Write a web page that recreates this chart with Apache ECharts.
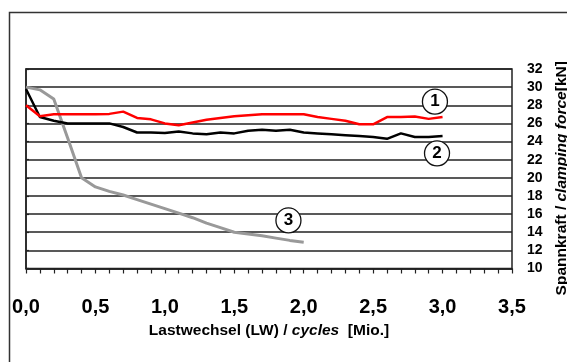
<!DOCTYPE html>
<html>
<head>
<meta charset="utf-8">
<script src="https://cdn.jsdelivr.net/npm/echarts@6/dist/echarts.min.js"></script>
<style>html,body{margin:0;padding:0;background:#fff}#c{width:567px;height:362px}</style>
</head>
<body>
<div id="c"></div>
<script>
// Load cycles [Mio.]
const cycles = [0.0,0.1,0.2,0.3,0.4,0.5,0.6,0.7,0.8,0.9,1.0,1.1,1.2,1.3,1.4,1.5,1.6,1.7,1.8,1.9,2.0,2.1,2.2,2.3,2.4,2.5,2.6,2.7,2.8,2.9,3.0];
// Curve 1 (red)
const curve1 = [28.0,26.8,27.0,27.0,27.0,27.0,27.05,27.3,26.6,26.45,26.0,25.8,26.1,26.4,26.6,26.8,26.9,27.0,27.0,27.0,27.0,26.7,26.5,26.3,25.9,25.9,26.7,26.7,26.75,26.5,26.7];
// Curve 2 (black)
const curve2 = [29.8,26.7,26.3,26.0,26.0,26.0,26.0,25.6,25.0,25.0,24.95,25.1,24.9,24.8,25.0,24.9,25.2,25.3,25.2,25.3,25.0,24.9,24.8,24.7,24.6,24.5,24.3,24.9,24.5,24.5,24.6];
// Curve 3 (grey), up to 2.0 Mio.
const curve3 = [30.0,29.7,28.7,24.4,20.0,19.0,18.5,18.1,17.6,17.1,16.6,16.1,15.6,15.0,14.5,14.0,13.8,13.6,13.35,13.1,12.9];
// Circled curve labels [x, y, text]
const tags = [[2.945, 28.4, '1'], [2.96, 22.7, '2'], [1.89, 15.3, '3']];
const xTicks = {min: 0, max: 3.5, step: 0.5};
const yTicks = {min: 10, max: 32, step: 2};

const pairs = (vals) => vals.map((v, i) => [cycles[i], v]);
const tagPoint = (t) => ({
  coord: [t[0], t[1]],
  value: t[2],
  symbol: 'circle',
  symbolSize: 25,
  itemStyle: {color: '#fff', borderColor: '#111', borderWidth: 1.3},
  label: {show: true, formatter: t[2], color: '#000', fontSize: 17, fontWeight: 'bold', fontFamily: 'Liberation Sans'}
});
const nameFont = {fontSize: 15.5, fontWeight: 'bold', color: '#000', fontFamily: 'Liberation Sans'};

const chart = echarts.init(document.getElementById('c'), null, {renderer: 'canvas'});
chart.setOption({
  animation: false,
  backgroundColor: '#fff',
  graphic: [{
    type: 'rect', left: 7, top: 10, silent: true,
    shape: {width: 620, height: 420},
    style: {fill: 'none', stroke: '#333', lineWidth: 1.5}
  }],
  grid: {left: 26, right: 55, top: 69, bottom: 93.5, outerBoundsMode: 'none', containLabel: false,
         show: true, borderColor: '#222', borderWidth: 1.5, backgroundColor: 'transparent'},
  xAxis: {
    type: 'value', min: xTicks.min, max: xTicks.max, interval: xTicks.step,
    axisLine: {show: true, lineStyle: {color: '#222', width: 1.5}},
    axisTick: {show: true, length: 5, lineStyle: {color: '#222', width: 1.2}},
    minorTick: {show: true, splitNumber: 5, length: 5, lineStyle: {color: '#222', width: 1.2}},
    splitLine: {show: false},
    axisLabel: {
      margin: 29, color: '#000', fontSize: 20, fontWeight: 'bold', fontFamily: 'Liberation Sans',
      formatter: (v) => v.toFixed(1).replace('.', ',')
    },
    name: '{b|Lastwechsel (LW) / }{i|cycles}{b|  [Mio.]}',
    nameLocation: 'middle', nameGap: 53,
    nameTextStyle: Object.assign({}, nameFont, {
      rich: {b: Object.assign({}, nameFont), i: Object.assign({fontStyle: 'italic'}, nameFont)}
    })
  },
  yAxis: {
    type: 'value', position: 'right', min: yTicks.min, max: yTicks.max, interval: yTicks.step,
    axisLine: {show: true, lineStyle: {color: '#222', width: 1.5}},
    axisTick: {show: true, length: 3, lineStyle: {color: '#222', width: 1.2}},
    splitLine: {show: true, lineStyle: {color: '#222', width: 1.5}},
    axisLabel: {margin: 15, color: '#000', fontSize: 14, fontWeight: 'bold', fontFamily: 'Liberation Sans', padding: [5, 0, 0, 0]},
    name: '{b|Spannkraft / }{i|clamping force}{b|[kN]}',
    nameLocation: 'middle', nameGap: 36.5,
    nameTextStyle: Object.assign({}, nameFont, {
      padding: [0, 19, 0, 0],
      rich: {b: Object.assign({}, nameFont), i: Object.assign({fontStyle: 'italic'}, nameFont)}
    })
  },
  series: [
    {type: 'line', data: pairs(curve3), showSymbol: false, lineStyle: {color: '#999', width: 3}, z: 2,
     markPoint: {data: [tagPoint(tags[2])], animation: false}},
    {type: 'line', data: pairs(curve2), showSymbol: false, lineStyle: {color: '#000', width: 2.5}, z: 3,
     markPoint: {data: [tagPoint(tags[1])], animation: false}},
    {type: 'line', data: pairs(curve1), showSymbol: false, lineStyle: {color: '#ff0000', width: 2.5}, z: 4,
     markPoint: {data: [tagPoint(tags[0])], animation: false}}
  ]
});
</script>
</body>
</html>
